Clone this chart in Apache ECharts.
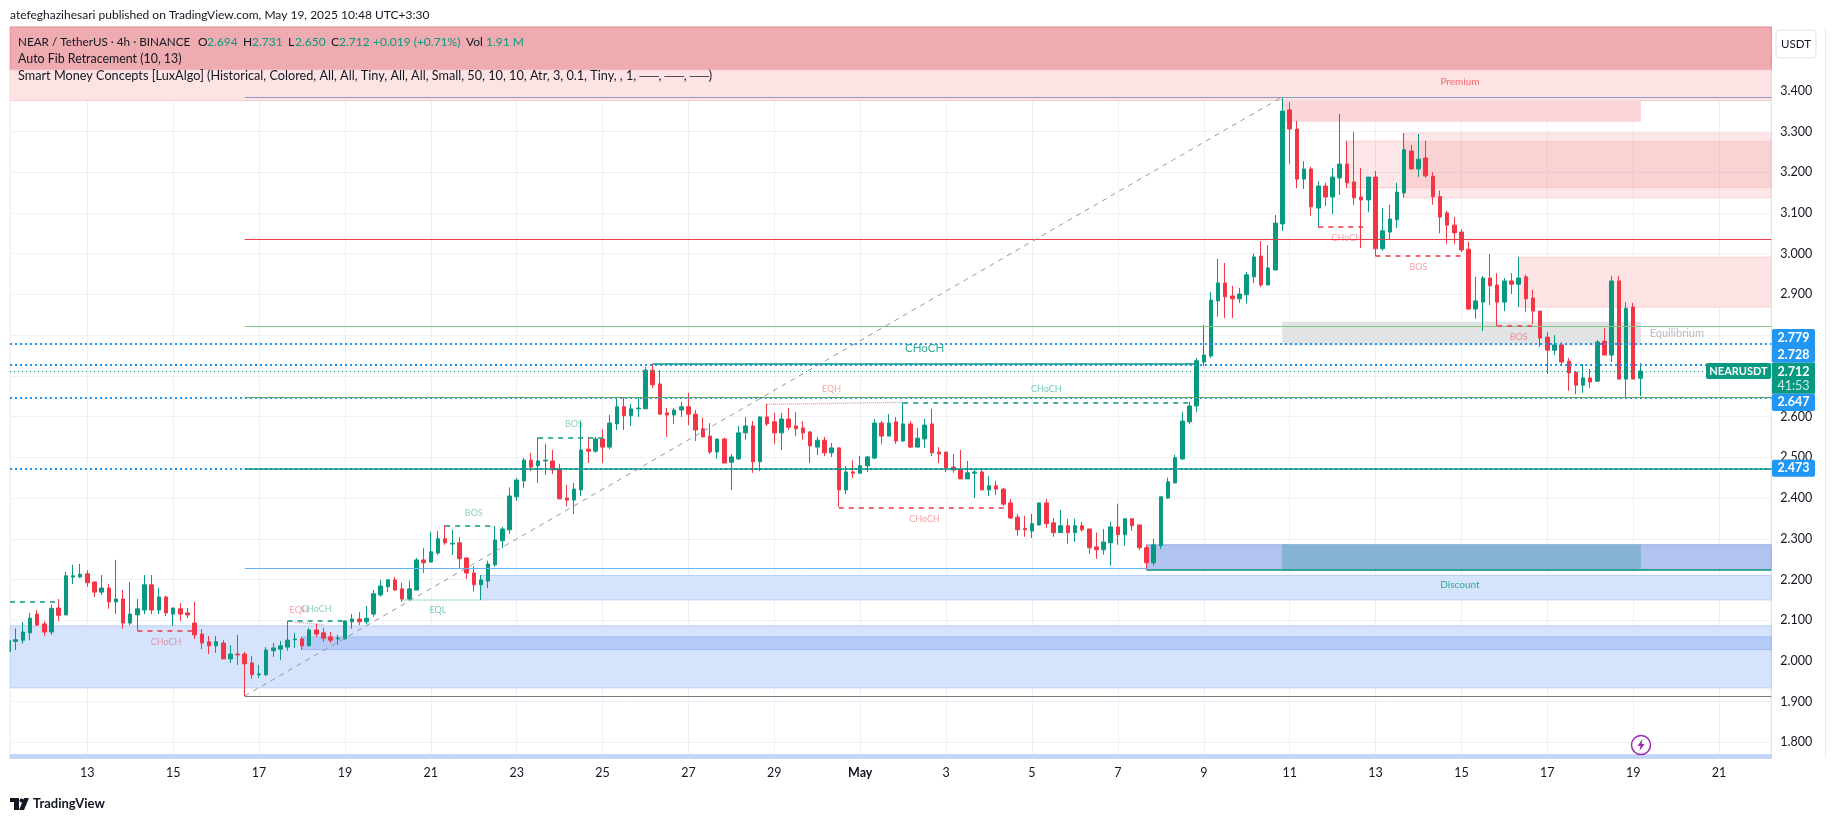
<!DOCTYPE html>
<html>
<head>
<meta charset="utf-8">
<title>NEAR / TetherUS 4h</title>
<script src="https://cdn.jsdelivr.net/npm/echarts@6/dist/echarts.min.js"></script>
<style>
    html, body { margin: 0; padding: 0; background: #fff; }
    #containerg { width: 1835px; height: 822px; }
</style>
</head>
<body>
<div id="containerg"></div>
<script>
// candles, one per 4h
var opens = [
    2.023, 2.048, 2.051, 2.069, 2.115, 2.091, 2.071, 2.130, 2.113, 2.206,
    2.206, 2.214, 2.194, 2.169, 2.179, 2.145, 2.152, 2.093, 2.113, 2.125,
    2.187, 2.125, 2.157, 2.115, 2.128, 2.118, 2.093, 2.066, 2.047, 2.037,
    2.044, 2.005, 2.017, 2.017, 1.995, 1.966, 1.966, 2.025, 2.029, 2.034,
    2.052, 2.054, 2.037, 2.076, 2.069, 2.059, 2.054, 2.054, 2.096, 2.103,
    2.096, 2.115, 2.162, 2.182, 2.199, 2.177, 2.152, 2.174, 2.248, 2.243,
    2.265, 2.300, 2.287, 2.290, 2.253, 2.216, 2.187, 2.196, 2.236, 2.295,
    2.322, 2.403, 2.442, 2.493, 2.479, 2.491, 2.491, 2.471, 2.400, 2.395,
    2.420, 2.520, 2.515, 2.545, 2.525, 2.582, 2.624, 2.602, 2.619, 2.619,
    2.714, 2.680, 2.609, 2.604, 2.616, 2.624, 2.606, 2.570, 2.552, 2.513,
    2.545, 2.488, 2.496, 2.560, 2.577, 2.489, 2.599, 2.587, 2.560, 2.594,
    2.577, 2.572, 2.562, 2.525, 2.542, 2.511, 2.523, 2.420, 2.464, 2.461,
    2.479, 2.498, 2.584, 2.552, 2.587, 2.540, 2.582, 2.525, 2.545, 2.582,
    2.513, 2.513, 2.476, 2.471, 2.447, 2.461, 2.464, 2.420, 2.430, 2.422,
    2.388, 2.353, 2.325, 2.319, 2.334, 2.388, 2.339, 2.315, 2.332, 2.315,
    2.332, 2.324, 2.280, 2.273, 2.290, 2.329, 2.310, 2.349, 2.334, 2.278,
    2.241, 2.283, 2.400, 2.437, 2.496, 2.587, 2.626, 2.734, 2.749, 2.884,
    2.928, 2.896, 2.889, 2.899, 2.943, 2.994, 2.923, 2.960, 3.073, 3.353,
    3.306, 3.183, 3.208, 3.112, 3.166, 3.139, 3.186, 3.220, 3.176, 3.139,
    3.132, 3.188, 3.012, 3.053, 3.083, 3.149, 3.252, 3.208, 3.235, 3.190,
    3.140, 3.100, 3.070, 3.053, 3.011, 2.864, 2.881, 2.940, 2.923, 2.881,
    2.933, 2.925, 2.943, 2.891, 2.859, 2.795, 2.763, 2.776, 2.736, 2.709,
    2.677, 2.695, 2.687, 2.785, 2.751, 2.933, 2.692, 2.869, 2.694
];
var closes = [
    2.050, 2.052, 2.071, 2.105, 2.088, 2.071, 2.129, 2.112, 2.209, 2.209,
    2.213, 2.192, 2.169, 2.179, 2.145, 2.152, 2.093, 2.115, 2.128, 2.187,
    2.125, 2.157, 2.118, 2.130, 2.115, 2.113, 2.064, 2.044, 2.037, 2.047,
    2.005, 2.017, 2.015, 1.993, 1.966, 1.968, 2.027, 2.032, 2.037, 2.051,
    2.054, 2.037, 2.076, 2.066, 2.056, 2.051, 2.056, 2.098, 2.103, 2.096,
    2.105, 2.165, 2.184, 2.199, 2.174, 2.152, 2.177, 2.248, 2.241, 2.268,
    2.300, 2.290, 2.289, 2.251, 2.216, 2.187, 2.199, 2.238, 2.297, 2.324,
    2.405, 2.444, 2.493, 2.476, 2.491, 2.493, 2.469, 2.398, 2.395, 2.422,
    2.518, 2.515, 2.545, 2.525, 2.584, 2.624, 2.602, 2.619, 2.621, 2.714,
    2.678, 2.606, 2.604, 2.616, 2.624, 2.606, 2.567, 2.550, 2.513, 2.545,
    2.486, 2.501, 2.560, 2.577, 2.489, 2.599, 2.582, 2.560, 2.594, 2.574,
    2.570, 2.560, 2.528, 2.542, 2.511, 2.523, 2.420, 2.464, 2.461, 2.479,
    2.501, 2.584, 2.552, 2.584, 2.540, 2.582, 2.525, 2.547, 2.579, 2.511,
    2.508, 2.474, 2.469, 2.447, 2.462, 2.464, 2.420, 2.430, 2.422, 2.385,
    2.351, 2.322, 2.322, 2.337, 2.388, 2.337, 2.315, 2.332, 2.315, 2.332,
    2.322, 2.278, 2.273, 2.292, 2.329, 2.310, 2.349, 2.332, 2.278, 2.241,
    2.285, 2.403, 2.440, 2.499, 2.589, 2.626, 2.737, 2.751, 2.886, 2.928,
    2.894, 2.889, 2.901, 2.948, 2.992, 2.923, 2.965, 3.075, 3.350, 3.306,
    3.183, 3.208, 3.115, 3.166, 3.139, 3.188, 3.220, 3.174, 3.137, 3.132,
    3.188, 3.012, 3.056, 3.085, 3.151, 3.255, 3.208, 3.232, 3.191, 3.140,
    3.090, 3.070, 3.051, 3.009, 2.864, 2.884, 2.940, 2.921, 2.881, 2.933,
    2.925, 2.940, 2.889, 2.859, 2.793, 2.763, 2.776, 2.734, 2.707, 2.677,
    2.695, 2.685, 2.783, 2.751, 2.933, 2.692, 2.866, 2.692, 2.712
];
var lows = [
    2.020, 2.027, 2.042, 2.051, 2.085, 2.061, 2.064, 2.098, 2.112, 2.189,
    2.204, 2.182, 2.157, 2.162, 2.128, 2.115, 2.079, 2.088, 2.075, 2.115,
    2.115, 2.115, 2.110, 2.086, 2.098, 2.105, 2.054, 2.029, 2.017, 2.020,
    2.005, 1.995, 1.990, 1.914, 1.956, 1.958, 1.963, 2.010, 2.002, 2.025,
    2.032, 2.027, 2.037, 2.059, 2.047, 2.044, 2.039, 2.054, 2.079, 2.088,
    2.090, 2.108, 2.158, 2.169, 2.172, 2.145, 2.150, 2.174, 2.216, 2.241,
    2.260, 2.285, 2.260, 2.226, 2.201, 2.170, 2.150, 2.179, 2.231, 2.277,
    2.312, 2.393, 2.425, 2.466, 2.437, 2.457, 2.459, 2.398, 2.380, 2.361,
    2.405, 2.486, 2.511, 2.486, 2.520, 2.567, 2.567, 2.577, 2.599, 2.619,
    2.670, 2.604, 2.550, 2.582, 2.599, 2.579, 2.540, 2.550, 2.508, 2.496,
    2.486, 2.420, 2.494, 2.543, 2.462, 2.466, 2.577, 2.533, 2.518, 2.567,
    2.552, 2.543, 2.486, 2.506, 2.503, 2.501, 2.378, 2.410, 2.449, 2.459,
    2.464, 2.496, 2.533, 2.552, 2.533, 2.538, 2.523, 2.525, 2.523, 2.503,
    2.486, 2.464, 2.462, 2.447, 2.447, 2.400, 2.420, 2.405, 2.407, 2.381,
    2.349, 2.307, 2.305, 2.302, 2.332, 2.327, 2.305, 2.315, 2.288, 2.292,
    2.317, 2.263, 2.251, 2.261, 2.234, 2.285, 2.283, 2.319, 2.273, 2.224,
    2.234, 2.275, 2.398, 2.437, 2.494, 2.582, 2.611, 2.724, 2.744, 2.845,
    2.842, 2.842, 2.879, 2.877, 2.928, 2.918, 2.923, 2.960, 3.056, 3.220,
    3.161, 3.159, 3.093, 3.065, 3.117, 3.097, 3.144, 3.161, 3.120, 3.014,
    3.102, 2.994, 3.007, 3.034, 3.063, 3.137, 3.208, 3.188, 3.186, 3.120,
    3.050, 3.024, 3.024, 3.004, 2.862, 2.840, 2.810, 2.874, 2.822, 2.859,
    2.901, 2.869, 2.857, 2.827, 2.771, 2.705, 2.751, 2.724, 2.663, 2.655,
    2.658, 2.670, 2.685, 2.751, 2.734, 2.692, 2.643, 2.692, 2.650
];
var highs = [
    2.050, 2.080, 2.096, 2.118, 2.125, 2.098, 2.138, 2.152, 2.219, 2.236,
    2.238, 2.223, 2.194, 2.211, 2.189, 2.248, 2.174, 2.194, 2.152, 2.211,
    2.211, 2.179, 2.160, 2.130, 2.142, 2.130, 2.145, 2.078, 2.061, 2.061,
    2.051, 2.039, 2.064, 2.022, 2.012, 1.990, 2.034, 2.044, 2.049, 2.098,
    2.069, 2.059, 2.081, 2.091, 2.081, 2.071, 2.064, 2.100, 2.115, 2.120,
    2.135, 2.174, 2.199, 2.201, 2.206, 2.192, 2.197, 2.253, 2.277, 2.317,
    2.319, 2.334, 2.322, 2.304, 2.253, 2.233, 2.211, 2.246, 2.331, 2.329,
    2.426, 2.449, 2.498, 2.511, 2.549, 2.533, 2.518, 2.484, 2.432, 2.437,
    2.588, 2.550, 2.550, 2.569, 2.604, 2.648, 2.648, 2.631, 2.648, 2.722,
    2.729, 2.714, 2.621, 2.621, 2.636, 2.658, 2.616, 2.597, 2.584, 2.545,
    2.548, 2.508, 2.577, 2.599, 2.589, 2.601, 2.631, 2.609, 2.609, 2.621,
    2.611, 2.589, 2.565, 2.550, 2.550, 2.535, 2.525, 2.479, 2.493, 2.503,
    2.503, 2.594, 2.589, 2.606, 2.599, 2.635, 2.589, 2.572, 2.594, 2.619,
    2.525, 2.513, 2.508, 2.518, 2.491, 2.469, 2.469, 2.454, 2.442, 2.425,
    2.398, 2.361, 2.356, 2.361, 2.388, 2.398, 2.351, 2.371, 2.349, 2.349,
    2.342, 2.324, 2.315, 2.324, 2.342, 2.386, 2.349, 2.351, 2.334, 2.285,
    2.300, 2.403, 2.450, 2.506, 2.611, 2.636, 2.744, 2.825, 2.906, 2.987,
    2.977, 2.921, 2.916, 2.955, 3.000, 3.031, 3.021, 3.095, 3.385, 3.372,
    3.326, 3.227, 3.213, 3.178, 3.174, 3.210, 3.343, 3.277, 3.299, 3.210,
    3.188, 3.203, 3.112, 3.120, 3.174, 3.296, 3.267, 3.294, 3.277, 3.200,
    3.155, 3.105, 3.090, 3.060, 3.029, 2.943, 2.945, 2.999, 2.952, 2.940,
    2.952, 2.992, 2.948, 2.911, 2.859, 2.808, 2.800, 2.783, 2.744, 2.712,
    2.729, 2.717, 2.788, 2.817, 2.945, 2.945, 2.881, 2.879, 2.731
];

// axes
var priceTicks = [1.8, 1.9, 2.0, 2.1, 2.2, 2.3, 2.4, 2.5, 2.6, 2.7, 2.8, 2.9, 3.0, 3.1, 3.2, 3.3, 3.4];
var dayTickIndex = [11, 23, 35, 47, 59, 71, 83, 95, 107, 119, 131, 143, 155, 167, 179, 191, 203, 215, 227, 239];
var dayTickLabels = ['13', '15', '17', '19', '21', '23', '25', '27', '29', 'May', '3', '5', '7', '9', '11', '13', '15', '17', '19', '21'];
var xMin = 0.2, xMax = 246.3, yMin = 1.7617, yMax = 3.5565;

// zones: from candle, to candle, top price, bottom price, fill, edge
var zones = [
    [xMin, xMax, 3.5565, 3.451, '#eeabb0', '#e68c93'],
    [xMin, xMax, 3.451, 3.376, '#fde3e3', '#fbd0d3'],
    [178, 228, 3.376, 3.325, '#fad6d9', '#fad6d9'],
    [195, xMax, 3.296, 3.137, 'rgba(242,54,69,.12)', '#fbd0d3'],
    [187, xMax, 3.276, 3.162, 'rgba(242,54,69,.12)', '#f8c8cc'],
    [211, xMax, 2.991, 2.869, '#fde3e3', '#fbd0d3'],
    [178, 228, 2.832, 2.776, '#e2e3e5', '#e2e3e5'],
    [159, xMax, 2.285, 2.224, '#b0c4ef', '#94ace6'],
    [178, 228, 2.285, 2.224, '#86b2d3', '#86b2d3'],
    [66, xMax, 2.210, 2.150, '#d5e3fc', '#b6cdf7'],
    [xMin, xMax, 2.086, 1.934, '#d5e3fc', '#b6cdf7'],
    [41, xMax, 2.059, 2.028, '#b5ccf9', '#9db9f0'],
    [xMin, xMax, 1.7695, 1.7617, '#c6d8fa', '#b6cdf7']
];

// flat levels: from candle, to candle, price, style
var levels = [
    [xMin, xMax, 2.779, 'dots'], [xMin, xMax, 2.728, 'dots'], [xMin, xMax, 2.647, 'dots'], [xMin, xMax, 2.473, 'dots'],
    [xMin, xMax, 2.712, 'lastPrice'],
    [33, xMax, 3.383, 'fibTop'], [33, xMax, 3.035, 'fibRed'], [33, xMax, 2.822, 'fibGreen'],
    [33, xMax, 2.648, 'fibOlive'], [33, xMax, 2.473, 'swing'], [33, 159, 2.227, 'fibBlue'],
    [159, xMax, 2.224, 'swing'], [33, xMax, 1.913, 'fibGray'], [90, 166, 2.7285, 'swing'],
    [xMin, 7, 2.146, 'dashUp'], [18, 26, 2.075, 'dashDown'], [39, 47, 2.098, 'dashUp'], [61, 68, 2.332, 'dashUp'],
    [74, 84, 2.549, 'dashUp'], [125, 165, 2.635, 'dashUp'], [116, 140, 2.377, 'dashDown'],
    [183, 190, 3.065, 'dashDown'], [191, 203.5, 2.996, 'dashDown'], [208, 213, 2.824, 'dashDown'],
    [55, 66, 2.151, 'eqUp']
];
// equal highs, these two lean a little
var slantedLevels = [
    [40, 2.095, 44, 2.089, 'eqDown'],
    [106, 2.630, 125, 2.635, 'eqDown'],
    [33, 1.914, 178, 3.385, 'fibDiagonal']
];

// small texts on the chart: candle, price, text, colour, size
var notes = [
    [22, 2.047, 'CHoCH', 'rgba(242,54,69,.6)', 9],
    [40.6, 2.125, 'EQH', 'rgba(242,54,69,.6)', 9],
    [43, 2.128, 'CHoCH', 'rgba(8,153,129,.6)', 9],
    [60, 2.125, 'EQL', 'rgba(8,153,129,.7)', 9],
    [65, 2.363, 'BOS', 'rgba(8,153,129,.6)', 9],
    [79, 2.581, 'BOS', 'rgba(8,153,129,.6)', 9],
    [115, 2.667, 'EQH', 'rgba(242,54,69,.6)', 9],
    [128, 2.768, 'CHoCH', '#089981', 11.5],
    [145, 2.667, 'CHoCH', 'rgba(8,153,129,.7)', 9],
    [128, 2.348, 'CHoCH', 'rgba(242,54,69,.6)', 9],
    [187, 3.038, 'CHoCH', 'rgba(242,54,69,.6)', 9],
    [197, 2.966, 'BOS', 'rgba(242,54,69,.6)', 9],
    [211, 2.794, 'BOS', 'rgba(242,54,69,.6)', 9],
    [202.8, 3.422, 'Premium', 'rgba(242,54,69,.9)', 10],
    [202.8, 2.1866, 'Discount', '#089981', 10],
    [233.1, 2.803, 'Equilibrium', '#a8abb4', 11]
];

var headerParts = [
    ['NEAR / TetherUS · 4h · BINANCE', 18, '#131722', 11.7],
    ['O', 198, '#131722', 12], ['2.694', 207, '#089981', 12],
    ['H', 243, '#131722', 12], ['2.731', 252, '#089981', 12],
    ['L', 288, '#131722', 12], ['2.650', 295, '#089981', 12],
    ['C', 331, '#131722', 12], ['2.712', 339, '#089981', 12],
    ['+0.019 (+0.71%)', 373, '#089981', 12],
    ['Vol', 466, '#131722', 12], ['1.91 M', 486, '#089981', 12]
];
var publishedLine = 'atefeghazihesari published on TradingView.com, May 19, 2025 10:48 UTC+3:30';
var fibLine = 'Auto Fib Retracement (10, 13)';
var smcLine = 'Smart Money Concepts [LuxAlgo] (Historical, Colored, All, All, Tiny, All, All, Small, 50, 10, 10, Atr, 3, 0.1, Tiny, , 1, ──, ──, ──)';

var FONT = 'Lato, "Liberation Sans", sans-serif';
var UP = '#089981', DOWN = '#F23645';

var lineStyles = {
    dots: { color: '#2196f3', width: 2, type: [2, 3] },
    lastPrice: { color: '#089981', width: 1, type: [1, 3] },
    fibTop: { color: '#8c9bc6', width: 1, type: 'solid' },
    fibRed: { color: '#ee3b45', width: 1, type: 'solid' },
    fibGreen: { color: '#7fc97f', width: 1, type: 'solid' },
    fibOlive: { color: '#5ba35f', width: 1, type: 'solid' },
    fibBlue: { color: '#64b5f6', width: 1, type: 'solid' },
    fibGray: { color: '#787b86', width: 1, type: 'solid' },
    fibDiagonal: { color: '#9598a1', width: 1, type: [5, 5] },
    swing: { color: '#089981', width: 1.5, type: 'solid' },
    dashUp: { color: '#089981', width: 1.5, type: [5, 5] },
    dashDown: { color: '#F23645', width: 1.5, type: [5, 5] },
    eqUp: { color: 'rgba(8,153,129,.5)', width: 1.5, type: [1, 1] },
    eqDown: { color: 'rgba(242,54,69,.5)', width: 1.5, type: [1, 1] }
};

function candleRows() {
    var rows = [];
    for (var i = 0; i < opens.length; i++) {
        rows.push([i, opens[i], closes[i], lows[i], highs[i]]);
    }
    return rows;
}

function zoneRows() {
    return zones.map(function (z) {
        return [
            { coord: [z[0], z[2]], itemStyle: { color: z[4], borderColor: z[5], borderWidth: 1 } },
            { coord: [z[1], z[3]] }
        ];
    });
}

function levelRows() {
    var rows = levels.map(function (l) {
        return [{ coord: [l[0], l[2]], lineStyle: lineStyles[l[3]] }, { coord: [l[1], l[2]] }];
    });
    slantedLevels.forEach(function (l) {
        rows.push([{ coord: [l[0], l[1]], lineStyle: lineStyles[l[4]] }, { coord: [l[2], l[3]] }]);
    });
    return rows;
}

function noteRows() {
    return notes.map(function (n) {
        return {
            value: [n[0], n[1]],
            label: { show: true, position: 'inside', formatter: n[2], color: n[3], fontSize: n[4], fontFamily: FONT }
        };
    });
}

function textItem(txt, x, y, color, size, align, weight) {
    return {
        type: 'text', x: x, y: y, z: 100, silent: true,
        style: {
            text: txt, fill: color, fontSize: size, fontFamily: FONT, fontWeight: weight || 'normal',
            align: align || 'left', verticalAlign: 'middle'
        }
    };
}

function tagRect(x, y, w, h, color, r) {
    return { type: 'rect', z: 99, silent: true, shape: { x: x, y: y, width: w, height: h, r: r || 0 }, style: { fill: color } };
}

function overlay() {
    var g = [
        // the first candle hangs over the left edge of the plot
        { type: 'rect', z: 98, silent: true, shape: { x: 0, y: 27, width: 9.5, height: 731 }, style: { fill: '#fff' } },
        textItem(publishedLine, 10, 15, '#131722', 12),
        textItem(fibLine, 18, 59, '#131722', 12.4),
        textItem(smcLine, 18, 76, '#131722', 12.7),
        // right panel
        { type: 'line', z: 99, silent: true, shape: { x1: 1825.5, y1: 27, x2: 1825.5, y2: 758 }, style: { stroke: '#e8eaf0', lineWidth: 1 } },
        { type: 'rect', z: 99, silent: true, shape: { x: 1776, y: 30, width: 40, height: 28, r: 4 }, style: { fill: '#fff', stroke: '#e0e3eb', lineWidth: 1 } },
        textItem('USDT', 1796, 44, '#131722', 11.5, 'center'),
        // price tags
        tagRect(1772, 329, 43, 33.7, '#2196f3', 2),
        textItem('2.779', 1793.5, 337.5, '#fff', 12.5, 'center', 700),
        textItem('2.728', 1793.5, 355, '#fff', 12.5, 'center', 700),
        tagRect(1772, 362.7, 43, 31, UP, 0),
        textItem('2.712', 1793.5, 371.5, '#fff', 12.5, 'center', 700),
        textItem('41:53', 1793.5, 385.5, '#cfe9e4', 12.5, 'center'),
        tagRect(1772, 393.7, 43, 17.3, '#2196f3', 2),
        textItem('2.647', 1793.5, 402.3, '#fff', 12.5, 'center', 700),
        tagRect(1772, 459.8, 43, 17, '#2196f3', 2),
        textItem('2.473', 1793.5, 468.3, '#fff', 12.5, 'center', 700),
        tagRect(1706, 363, 65, 16, UP, 2),
        textItem('NEARUSDT', 1738.5, 371.2, '#fff', 11, 'center', 700),
        // lightning badge
        { type: 'circle', z: 99, silent: true, shape: { cx: 1641, cy: 745, r: 9.5 }, style: { fill: '#fff', stroke: '#9c27b0', lineWidth: 1.5 } },
        { type: 'polygon', z: 100, silent: true, shape: { points: [[1642.5, 739], [1637.5, 746], [1640.5, 746], [1639.5, 751], [1644.5, 744], [1641.5, 744]] }, style: { fill: '#9c27b0' } },
        // logo
        { type: 'polygon', z: 100, silent: true, shape: { points: [[10, 798], [19, 798], [19, 810], [14, 810], [14, 802], [10, 802]] }, style: { fill: '#131722' } },
        { type: 'circle', z: 100, silent: true, shape: { cx: 21.5, cy: 800.5, r: 2 }, style: { fill: '#131722' } },
        { type: 'polygon', z: 100, silent: true, shape: { points: [[24, 798], [29, 798], [24, 810], [19, 810]] }, style: { fill: '#131722' } },
        textItem('TradingView', 33, 804, '#131722', 13, 'left', 700)
    ];
    headerParts.forEach(function (p) {
        g.push(textItem(p[0], p[1], 42, p[2], p[3]));
    });
    return g;
}

var dom = document.getElementById('containerg');
var myChart = echarts.init(dom);
var option = {
    animation: false,
    backgroundColor: '#fff',
    grid: {
        left: 10, top: 27, width: 1761.3, height: 731,
        show: true, backgroundColor: '#fff', borderColor: '#e0e3eb', borderWidth: 1
    },
    xAxis: {
        type: 'value', min: xMin, max: xMax,
        axisLine: { show: true, lineStyle: { color: '#e0e3eb' } },
        axisTick: { show: false, customValues: dayTickIndex },
        splitLine: { show: true, lineStyle: { color: '#eff0f3', width: 1 } },
        axisLabel: {
            customValues: dayTickIndex, color: '#131722', fontSize: 12.5, fontFamily: FONT, margin: 8,
            formatter: function (v) {
                var t = dayTickLabels[dayTickIndex.indexOf(v)];
                return t === 'May' ? '{m|May}' : t;
            },
            rich: { m: { fontWeight: 'bold', fontSize: 12.5, fontFamily: FONT, color: '#131722' } }
        }
    },
    yAxis: {
        type: 'value', position: 'right', min: yMin, max: yMax, scale: true,
        axisLine: { show: true, lineStyle: { color: '#e0e3eb' } },
        axisTick: { show: false, customValues: priceTicks },
        splitLine: { show: true, lineStyle: { color: '#f0f1f4', width: 1 } },
        axisLabel: {
            customValues: priceTicks, color: '#131722', fontSize: 12.5, fontFamily: FONT, margin: 9,
            formatter: function (v) { return v.toFixed(3); }
        }
    },
    series: [{
        name: 'NEARUSDT',
        type: 'candlestick',
        barWidth: 4,
        clip: true,
        itemStyle: { color: UP, color0: DOWN, borderColor: UP, borderColor0: DOWN, borderWidth: 1 },
        data: candleRows(),
        markArea: { silent: true, data: zoneRows() },
        markLine: { silent: true, symbol: ['none', 'none'], label: { show: false }, data: levelRows() }
    }, {
        name: 'notes',
        type: 'scatter',
        symbolSize: 0,
        silent: true,
        z: 6,
        data: noteRows()
    }],
    graphic: overlay()
};

myChart.setOption(option);
</script>
</body>
</html>
